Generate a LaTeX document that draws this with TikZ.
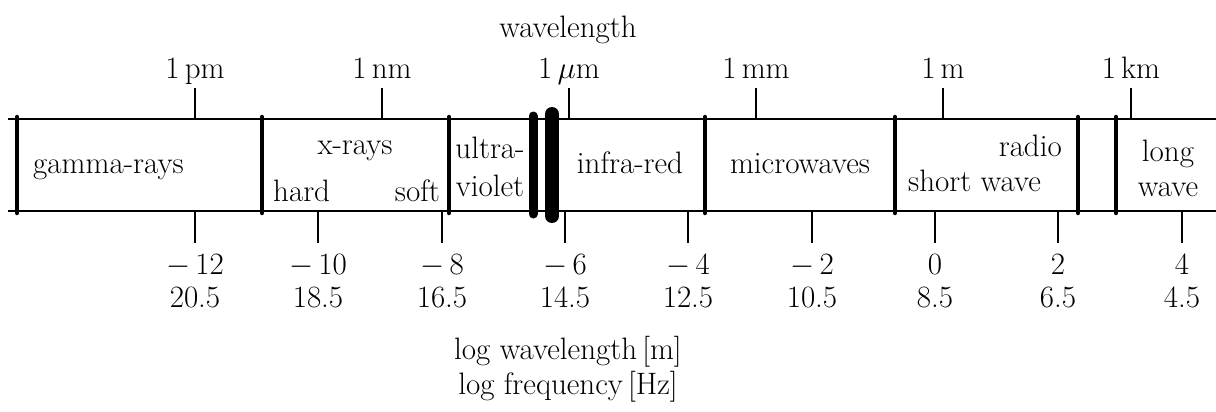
\RequirePackage{fix-cm}
\documentclass[tikz,border=0pt]{standalone}
\begin{document}
\begin{tikzpicture}[x=1pt,y=-1pt,
  every node/.style={font=\fontsize{31}{37}\selectfont, inner sep=0pt},
  axisline/.style={line width=2.6pt},
  tickline/.style={line width=2pt},
  bandbar/.style={line width=4.5pt, line cap=round},
  lbl/.style={anchor=base}]
\useasboundingbox (0,0) rectangle (1216,412);
% axis lines
\coordinate (tl) at (8,119);  \coordinate (tr) at (1216,119);
\coordinate (bl) at (8,211);  \coordinate (br) at (1216,211);
\draw[axisline] (tl) -- (tr);
\draw[axisline] (bl) -- (br);
% top ticks (wavelength)
\node[lbl] (wl) at (568,38) {wavelength};
\foreach \x/\t/\n in {195/1\,pm/pm, 382/1\,nm/nm, 569/1\,$\mu$m/um, 756/1\,mm/mm, 943/1\,m/m, 1131/1\,km/km}{
  \draw[tickline] (\x,88) -- (\x,119);
  \node[lbl] (top\n) at (\x,78) {\t};
}
% bottom ticks
\foreach \x/\a/\b/\n in {195/$-\mkern3mu12$/20.5/a, 318/$-\mkern3mu10$/18.5/b, 442/$-\mkern3mu8$/16.5/c, 565/$-\mkern3mu6$/14.5/d, 688/$-\mkern3mu4$/12.5/e, 812/$-\mkern3mu2$/10.5/f, 935/0/8.5/g, 1058/2/6.5/h, 1182/4/4.5/i}{
  \draw[tickline] (\x,211) -- (\x,243);
  \node[lbl] (lw\n) at (\x,274) {\a};
  \node[lbl] (lf\n) at (\x,307) {\b};
}
% band separators
\foreach \x in {17,262,449,705,895,1078,1116}{
  \draw[bandbar] (\x,117) -- (\x,213);
}
\draw[line width=9pt, line cap=round] (533,116) -- (533,214);
\draw[line width=14pt, line cap=round] (552,114) -- (552,216);
% band labels
\node[lbl, anchor=base west] (gamma) at (33,173) {gamma-rays};
\node[lbl] (xray) at (355,154) {x-rays};
\node[lbl, anchor=base west] (hard) at (273,201) {hard};
\node[lbl, anchor=base east] (soft) at (440,201) {soft};
\node[lbl] (uv1) at (490,158) {ultra-};
\node[lbl] (uv2) at (490,196) {violet};
\node[lbl] (ir) at (630,173) {infra-red};
\node[lbl] (mw) at (800,173) {microwaves};
\node[lbl, anchor=base east] (radio) at (1062,156) {radio};
\node[lbl, anchor=base west] (sw) at (908,191) {short wave};
\node[lbl] (lw1) at (1168,161) {long};
\node[lbl] (lw2) at (1168,196) {wave};
% axis titles
\node[lbl] (t1) at (568,359) {log wavelength\,[m]};
\node[lbl] (t2) at (568,394) {log frequency\,[Hz]};
\end{tikzpicture}
\end{document}
